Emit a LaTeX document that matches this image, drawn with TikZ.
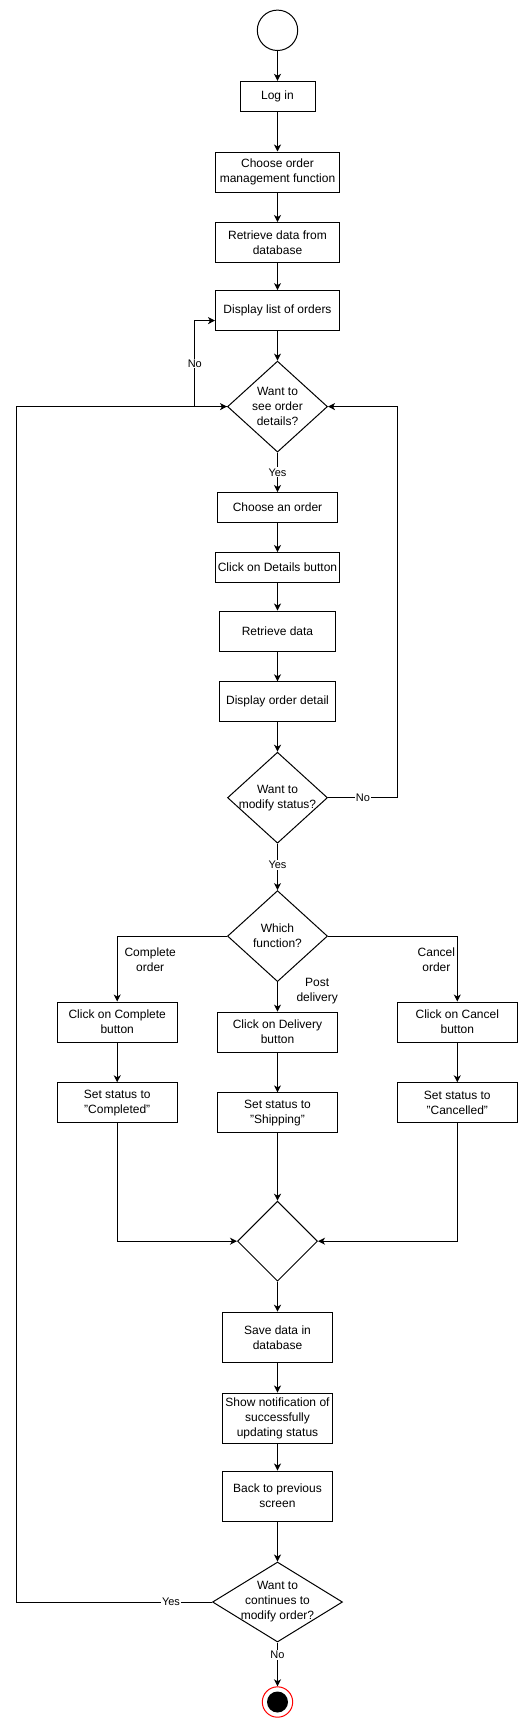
\documentclass[tikz,border=0pt]{standalone}
\usepackage{fontspec}
\setmainfont{Liberation Sans}
\usetikzlibrary{positioning, shapes.geometric, arrows.meta}

\begin{document}
\begin{tikzpicture}[x=1pt, y=-1pt, line width=1pt,
    box/.style={draw, rectangle, minimum width=124pt, minimum height=40pt, inner sep=0pt, align=center, font=\fontsize{12}{15}\selectfont},
    decision/.style={draw, diamond, inner sep=0pt, minimum width=100pt, minimum height=91pt},
    dtext/.style={align=center, inner sep=0pt, font=\fontsize{12}{15}\selectfont},
    lbl/.style={fill=white, inner sep=1pt, align=center, font=\fontsize{11}{14}\selectfont},
    branch/.style={inner sep=0pt, align=center, font=\fontsize{12}{15}\selectfont},
    flow/.style={-{Stealth[length=7pt, width=7pt, inset=2pt]}}]
    \useasboundingbox (0,0) rectangle (528,1725);

    % main column
    \node (start) [draw, circle, minimum size=40.4pt, inner sep=0pt] at (277.5,30.3) {};
    \node (login) [box, minimum width=75pt, minimum height=30pt] at (277.5,96.3) {Log in};
    \node (choose) [box] at (277.5,172) {Choose order\\management function};
    \node (retrieve) [box] at (277.5,242.5) {Retrieve data from\\database};
    \node (list) [box] at (277.5,310.6) {Display list of orders};
    \node (qdetail) [decision, label={[dtext]center:{Want to\\see order\\details?}}] at (277.5,406.6) {};
    \node (pick) [box, minimum width=120pt, minimum height=30pt] at (277.5,507.5) {Choose an order};
    \node (details) [box, minimum height=30pt] at (277.5,567.5) {Click on Details button};
    \node (fetch) [box, minimum width=116pt] at (277.5,631) {Retrieve data};
    \node (showdetail) [box, minimum width=116pt] at (277.5,701.8) {Display order detail};
    \node (qmodify) [decision, label={[dtext]center:{Want to\\modify status?}}] at (277.5,797.7) {};
    \node (qfunc) [decision, label={[dtext]center:{Which\\function?}}] at (277.5,936.1) {};

    % three branches
    \node (clkcomplete) [box, minimum width=120pt] at (117.2,1022) {Click on Complete\\button};
    \node (clkdelivery) [box, minimum width=120pt] at (277.5,1032.1) {Click on Delivery\\button};
    \node (clkcancel) [box, minimum width=120pt] at (457.3,1022) {Click on Cancel\\button};
    \node (setcomplete) [box, minimum width=120pt] at (117.2,1102.8) {Set status to\\"Completed"};
    \node (setship) [box, minimum width=120pt] at (277.5,1112.9) {Set status to\\"Shipping"};
    \node (setcancel) [box, minimum width=120pt] at (457.3,1102.8) {Set status to\\"Cancelled"};

    \node (merge) [decision, minimum width=80pt, minimum height=80pt] at (277.5,1241.2) {};
    \node (save) [box, minimum width=110pt, minimum height=50pt] at (277.5,1337.2) {Save data in\\database};
    \node (notify) [box, minimum width=110pt, minimum height=50pt] at (277.5,1418) {Show notification of\\successfully\\updating status};
    \node (back) [box, minimum width=110pt, minimum height=50pt] at (277.5,1496) {Back to previous\\screen};
    \node (qcont) [decision, minimum width=130pt, minimum height=80pt, label={[dtext]center:{Want to\\continues to\\modify order?}}] at (277.5,1602) {};
    \node (finish) [draw=red, fill=white, circle, minimum size=30.4pt, inner sep=0pt] at (277.5,1702) {};
    \fill (finish.center) circle [radius=10.5pt];

    % connectors
    \draw[flow] (start) -- (login);
    \draw[flow] (login) -- (choose);
    \draw[flow] (choose) -- (retrieve);
    \draw[flow] (retrieve) -- (list);
    \draw[flow] (list) -- (qdetail);
    \draw[flow] (qdetail.west) -- ++(-32.2,0) |- node[lbl, pos=0.25] {No} ([yshift=-10pt]list.west);
    \draw[flow] (qdetail) -- node[lbl] {Yes} (pick);
    \draw[flow] (pick) -- (details);
    \draw[flow] (details) -- (fetch);
    \draw[flow] (fetch) -- (showdetail);
    \draw[flow] (showdetail) -- (qmodify);
    \draw[flow] (qmodify.east) -- node[lbl] {No} ++(69.8,0) |- (qdetail.east);
    \draw[flow] (qmodify) -- node[lbl, pos=0.46] {Yes} (qfunc);

    \draw[flow] (qfunc.west) -| node[branch, pos=0.684, xshift=33pt] {Complete\\order} (clkcomplete.north);
    \draw[flow] (qfunc) -- node[branch, pos=0.3, xshift=39.7pt] {Post\\delivery} (clkdelivery);
    \draw[flow] (qfunc.east) -| node[branch, pos=0.684, xshift=-20.9pt] {Cancel\\order} (clkcancel.north);
    \draw[flow] (clkcomplete) -- (setcomplete);
    \draw[flow] (clkdelivery) -- (setship);
    \draw[flow] (clkcancel) -- (setcancel);
    \draw[flow] (setcomplete.south) |- (merge.west);
    \draw[flow] (setship) -- (merge);
    \draw[flow] (setcancel.south) |- (merge.east);

    \draw[flow] (merge) -- (save);
    \draw[flow] (save) -- (notify);
    \draw[flow] (notify) -- (back);
    \draw[flow] (back) -- (qcont);
    \draw[flow] (qcont.west) -- node[lbl, pos=0.21] {Yes} ++(-195.3,0) |- (qdetail.west);
    \draw[flow] (qcont) -- node[lbl, pos=0.29] {No} (finish);
\end{tikzpicture}
\end{document}
